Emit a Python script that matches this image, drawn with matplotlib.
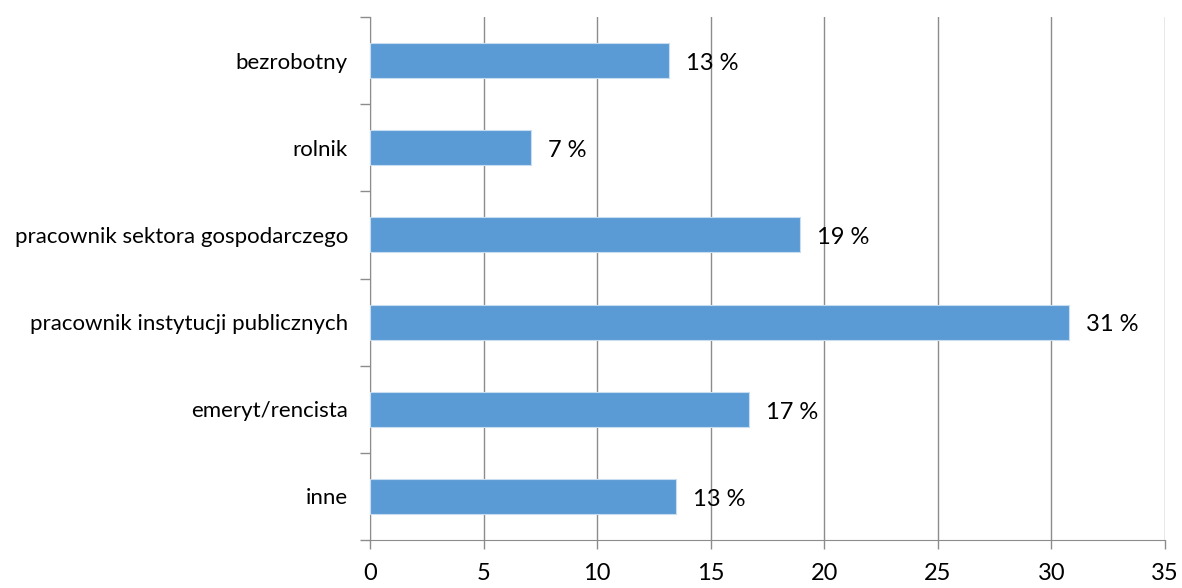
import matplotlib
matplotlib.use('Agg')
import matplotlib.pyplot as plt
import numpy as np

# data (top to bottom)
categories = ["bezrobotny", "rolnik", "pracownik sektora gospodarczego",
              "pracownik instytucji publicznych", "emeryt/rencista", "inne"]
values     = [13.17, 7.09, 18.93, 30.78, 16.69, 13.47]
labels     = ["13 %", "7 %", "19 %", "31 %", "17 %", "13 %"]
x_ticks    = [0, 5, 10, 15, 20, 25, 30, 35]

plt.rcParams['font.family'] = ['Lato', 'DejaVu Sans']

fig = plt.figure(figsize=(11.82, 5.88), dpi=100)
ax = fig.add_axes([370 / 1182, 48 / 588, 795 / 1182, 523 / 588])

y_pos = np.arange(len(categories))[::-1]
ax.barh(y_pos, values, height=0.4, color='#5B9BD5', edgecolor='#C9DDF0',
        linewidth=0.8, zorder=3)

for y, v, lab in zip(y_pos, values, labels):
	ax.annotate(lab, (v, y), xytext=(12, -2), textcoords='offset points',
	            va='center', ha='left', fontsize=17, color='#000000', zorder=4)

ax.set_xlim(0, 35)
ax.set_ylim(-0.5, len(categories) - 0.5)
ax.set_xticks(x_ticks)
ax.set_xticklabels([str(t) for t in x_ticks], fontsize=17)

# category labels centred, ticks at boundaries
ax.set_yticks(np.arange(-0.5, len(categories), 1.0))
ax.set_yticklabels([])
ax.set_yticks(y_pos, minor=True)
ax.set_yticklabels(categories, minor=True, fontsize=16)
ax.tick_params(axis='y', which='minor', length=0, pad=16)
ax.tick_params(axis='y', which='major', length=7, color='#8C8C8C', width=1)
ax.tick_params(axis='x', length=6.5, color='#8C8C8C', width=1, pad=10, direction='out')

ax.grid(axis='x', color='#8C8C8C', linewidth=1, zorder=0)
for side in ['top', 'right']:
	ax.spines[side].set_visible(False)
ax.spines['left'].set_color('#8C8C8C')
ax.spines['bottom'].set_color('#8C8C8C')

fig.savefig('out.png', dpi=100)
